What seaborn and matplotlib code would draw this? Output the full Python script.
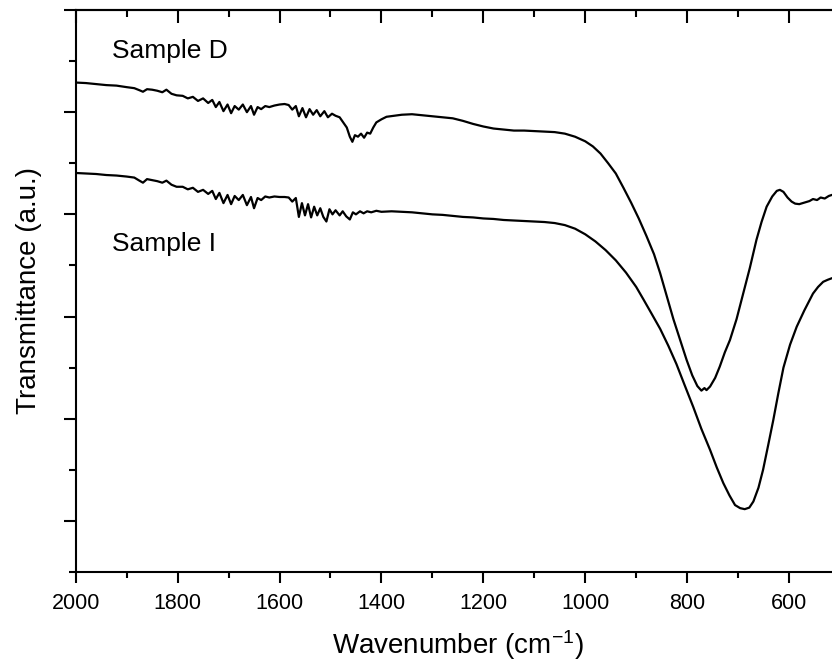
import numpy as np
import pandas as pd
import seaborn as sns
import matplotlib
matplotlib.use("Agg")
import matplotlib.pyplot as plt
from matplotlib.ticker import MultipleLocator

# Sample D spectrum (wavenumber, transmittance in arbitrary units)
wn_d = [2000, 1980, 1960, 1940, 1920, 1900, 1885, 1875, 1868, 1860, 1850, 1840,
        1830, 1822, 1812, 1802, 1790, 1780, 1770, 1760, 1750, 1740, 1732, 1725,
        1718, 1710, 1702, 1695, 1688, 1680, 1672, 1664, 1656, 1650, 1643, 1636,
        1628, 1620, 1610, 1600, 1590, 1582, 1575, 1568, 1562, 1555, 1548, 1541,
        1534, 1527, 1520, 1512, 1505, 1497, 1490, 1482, 1475, 1468, 1462, 1457,
        1452, 1446, 1440, 1434, 1428, 1422, 1416, 1410, 1400, 1390, 1375, 1360,
        1340, 1320, 1300, 1280, 1260, 1240, 1220, 1200, 1180, 1160, 1140, 1120,
        1100, 1080, 1060, 1040, 1020, 1000, 985, 970, 955, 940, 925, 910, 895,
        880, 865, 853, 840, 827, 814, 801, 790, 780, 772, 766, 762, 755, 745,
        736, 726, 716, 703, 690, 677, 664, 654, 644, 633, 624, 618, 611, 603,
        595, 588, 580, 570, 560, 553, 545, 538, 530, 522, 516, 500]
t_d = [9.58, 9.57, 9.55, 9.53, 9.52, 9.49, 9.47, 9.43, 9.40, 9.45, 9.44, 9.42,
       9.39, 9.44, 9.36, 9.33, 9.32, 9.27, 9.30, 9.22, 9.27, 9.18, 9.24, 9.10,
       9.20, 9.02, 9.15, 8.98, 9.12, 9.05, 9.15, 9.00, 9.12, 8.95, 9.10, 9.06,
       9.12, 9.10, 9.13, 9.15, 9.16, 9.14, 9.05, 9.12, 8.92, 9.08, 8.90, 9.06,
       8.95, 9.04, 8.92, 9.02, 8.90, 8.97, 8.93, 8.90, 8.80, 8.70, 8.52, 8.42,
       8.55, 8.52, 8.58, 8.50, 8.60, 8.58, 8.70, 8.80, 8.86, 8.91, 8.93, 8.95,
       8.96, 8.94, 8.92, 8.90, 8.88, 8.83, 8.77, 8.72, 8.68, 8.66, 8.64, 8.64,
       8.63, 8.62, 8.61, 8.58, 8.52, 8.43, 8.33, 8.19, 8.00, 7.80, 7.52, 7.23,
       6.92, 6.58, 6.22, 5.85, 5.40, 4.95, 4.55, 4.15, 3.85, 3.64, 3.55, 3.60,
       3.56, 3.63, 3.80, 4.02, 4.30, 4.54, 4.95, 5.45, 5.95, 6.50, 6.85, 7.15,
       7.35, 7.46, 7.48, 7.44, 7.33, 7.25, 7.21, 7.20, 7.23, 7.26, 7.30, 7.28,
       7.33, 7.31, 7.36, 7.38, 7.40]

# Sample I spectrum
wn_i = [2000, 1980, 1960, 1940, 1920, 1900, 1885, 1875, 1868, 1860, 1850, 1840,
        1830, 1822, 1812, 1802, 1790, 1780, 1770, 1760, 1750, 1740, 1732, 1725,
        1718, 1710, 1702, 1695, 1688, 1680, 1672, 1664, 1656, 1650, 1643, 1636,
        1628, 1620, 1610, 1600, 1590, 1582, 1575, 1568, 1562, 1556, 1550, 1544,
        1538, 1532, 1526, 1520, 1514, 1508, 1502, 1496, 1490, 1482, 1476, 1469,
        1462, 1456, 1450, 1442, 1435, 1428, 1420, 1410, 1400, 1380, 1360, 1340,
        1320, 1300, 1280, 1260, 1240, 1220, 1200, 1180, 1160, 1140, 1120, 1100,
        1080, 1060, 1040, 1020, 1000, 980, 960, 940, 920, 900, 886, 870, 853,
        837, 821, 805, 788, 772, 755, 742, 729, 717, 706, 696, 687, 678, 670,
        660, 651, 641, 631, 621, 611, 598, 585, 570, 553, 543, 533, 524, 516, 500]
t_i = [7.81, 7.80, 7.79, 7.77, 7.76, 7.74, 7.72, 7.66, 7.62, 7.69, 7.67, 7.65,
       7.62, 7.66, 7.58, 7.54, 7.54, 7.49, 7.52, 7.44, 7.48, 7.40, 7.46, 7.30,
       7.42, 7.22, 7.38, 7.20, 7.36, 7.28, 7.38, 7.18, 7.34, 7.12, 7.32, 7.28,
       7.35, 7.33, 7.35, 7.34, 7.34, 7.33, 7.25, 7.32, 6.95, 7.22, 6.98, 7.20,
       6.94, 7.15, 6.98, 7.12, 6.95, 6.86, 7.10, 7.00, 7.08, 6.98, 7.06, 6.96,
       6.90, 7.04, 7.00, 7.06, 7.02, 7.06, 7.04, 7.07, 7.05, 7.06, 7.05, 7.04,
       7.02, 7.00, 6.99, 6.97, 6.95, 6.94, 6.92, 6.91, 6.89, 6.88, 6.87, 6.86,
       6.85, 6.83, 6.79, 6.72, 6.61, 6.47, 6.30, 6.10, 5.86, 5.58, 5.34, 5.06,
       4.76, 4.43, 4.07, 3.66, 3.23, 2.80, 2.39, 2.05, 1.74, 1.50, 1.31, 1.25,
       1.23, 1.26, 1.38, 1.65, 2.00, 2.48, 2.97, 3.50, 4.00, 4.45, 4.80, 5.12,
       5.45, 5.58, 5.68, 5.72, 5.75, 5.78]

x_ticks = [2000, 1800, 1600, 1400, 1200, 1000, 800, 600]

sns.set_style("ticks")
plt.rcParams['font.family'] = ['Liberation Sans', 'DejaVu Sans']
plt.rcParams['mathtext.fontset'] = 'custom'
plt.rcParams['mathtext.rm'] = 'Liberation Sans'
plt.rcParams['mathtext.it'] = 'Liberation Sans'
plt.rcParams['text.color'] = 'black'
plt.rcParams['axes.labelcolor'] = 'black'
plt.rcParams['xtick.color'] = 'black'
plt.rcParams['ytick.color'] = 'black'

df = pd.concat([
    pd.DataFrame({'wn': wn_d, 't': t_d, 'sample': 'D'}),
    pd.DataFrame({'wn': wn_i, 't': t_i, 'sample': 'I'}),
])

fig = plt.figure(figsize=(8.32, 6.65), dpi=100)
ax = fig.add_axes([75.7 / 832, 93 / 665, (840 - 75.7) / 832, 562 / 665])

sns.lineplot(data=df, x='wn', y='t', hue='sample', palette=['black', 'black'],
             estimator=None, linewidth=1.6, legend=False, ax=ax)

ax.set_xlim(2000, 500)
ax.set_ylim(0, 11)
ax.set_xticks(x_ticks)
ax.xaxis.set_minor_locator(MultipleLocator(100))
ax.yaxis.set_major_locator(MultipleLocator(2, offset=1))
ax.yaxis.set_minor_locator(MultipleLocator(1))
ax.set_yticklabels([])

for s in ax.spines.values():
    s.set_linewidth(1.5)
    s.set_color('black')
ax.spines['right'].set_visible(False)

ax.tick_params(axis='x', which='major', direction='out', length=8, width=1.5,
               labelsize=15.5, pad=7, color='black', labelcolor='black')
ax.tick_params(axis='x', which='minor', direction='out', length=4.5, width=1.5,
               color='black')
ax.tick_params(axis='y', which='major', direction='out', length=9, width=1.5,
               color='black')
ax.tick_params(axis='y', which='minor', direction='out', length=5, width=1.5,
               color='black')

top = ax.secondary_xaxis('top')
top.set_xticks(x_ticks)
top.xaxis.set_minor_locator(MultipleLocator(100))
top.tick_params(axis='x', which='major', direction='in', length=9, width=1.5,
                labeltop=False, color='black')
top.tick_params(axis='x', which='minor', direction='in', length=5, width=1.5,
                color='black')
top.spines['top'].set_linewidth(1.5)
top.spines['top'].set_color('black')

ax.set_xlabel(r'Wavenumber (cm$^{-1}$)', fontsize=20, labelpad=10, color='black')
ax.set_ylabel('Transmittance (a.u.)', fontsize=20, labelpad=12, color='black')

ax.text(1929, 10.06, 'Sample D', fontsize=19, va='baseline', ha='left', color='black')
ax.text(1929, 6.29, 'Sample I', fontsize=19, va='baseline', ha='left', color='black')

fig.savefig('out.png', dpi=100)
